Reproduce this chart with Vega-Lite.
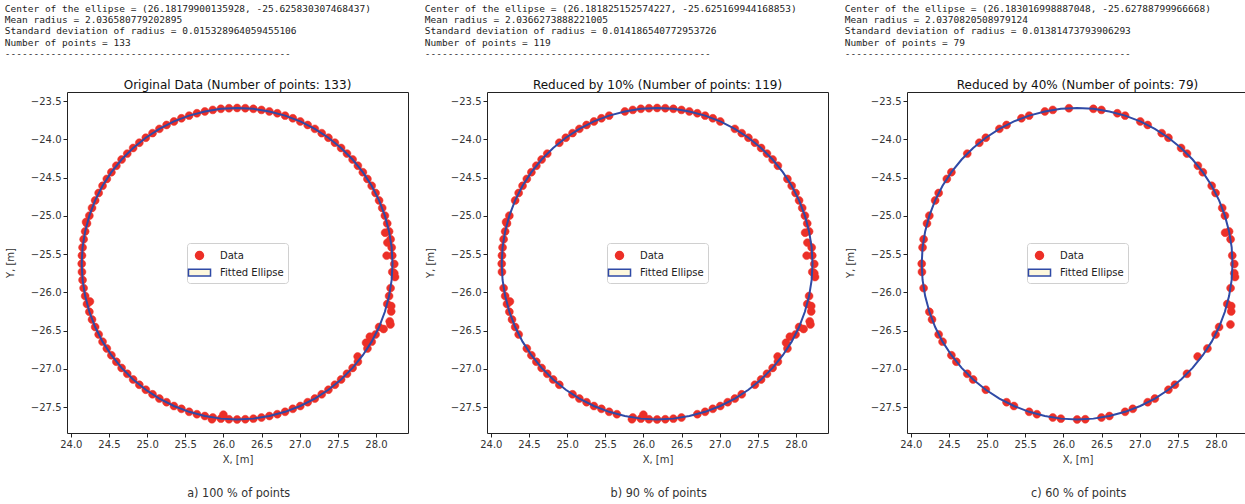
{
"$schema": "https://vega.github.io/schema/vega-lite/v6.json",
"background": "white",
"padding": {"left": 4, "top": 3, "right": 0, "bottom": 0},
"datasets": {
"pts": [
{"x":28.24,"y":-25.63,"b":1,"c":1},{"x":28.214,"y":-25.519,"b":1,"c":1},{"x":28.206,"y":-25.413,"b":1},{"x":28.192,"y":-25.307,"c":1},{"x":28.172,"y":-25.203,"b":1,"c":1},{"x":28.148,"y":-25.099,"b":1},{"x":28.117,"y":-24.997,"b":1,"c":1},{"x":28.082,"y":-24.896,"b":1,"c":1},{"x":28.041,"y":-24.798,"b":1},{"x":27.995,"y":-24.701,"b":1,"c":1},
{"x":27.944,"y":-24.607,"b":1,"c":1},{"x":27.888,"y":-24.517,"b":1},{"x":27.828,"y":-24.429,"c":1},{"x":27.763,"y":-24.344,"b":1,"c":1},{"x":27.694,"y":-24.263,"b":1},{"x":27.62,"y":-24.186,"b":1,"c":1},{"x":27.543,"y":-24.112,"b":1,"c":1},{"x":27.462,"y":-24.043,"b":1},{"x":27.377,"y":-23.978,"b":1,"c":1},{"x":27.289,"y":-23.918,"b":1,"c":1},
{"x":27.199,"y":-23.862,"b":1},{"x":27.105,"y":-23.811,"c":1},{"x":27.008,"y":-23.765,"b":1,"c":1},{"x":26.91,"y":-23.724,"b":1},{"x":26.809,"y":-23.689,"b":1,"c":1},{"x":26.707,"y":-23.658,"b":1,"c":1},{"x":26.603,"y":-23.634,"b":1},{"x":26.499,"y":-23.614,"b":1,"c":1},{"x":26.393,"y":-23.6,"b":1,"c":1},{"x":26.287,"y":-23.592,"b":1},
{"x":26.18,"y":-23.589,"b":1},{"x":26.073,"y":-23.592,"b":1,"c":1},{"x":25.967,"y":-23.6,"b":1},{"x":25.861,"y":-23.614,"b":1,"c":1},{"x":25.757,"y":-23.634,"b":1,"c":1},{"x":25.653,"y":-23.658},{"x":25.551,"y":-23.689,"b":1,"c":1},{"x":25.45,"y":-23.724,"b":1,"c":1},{"x":25.352,"y":-23.765,"b":1},{"x":25.255,"y":-23.811,"b":1,"c":1},
{"x":25.161,"y":-23.862,"b":1,"c":1},{"x":25.071,"y":-23.918,"b":1},{"x":24.983,"y":-23.978,"b":1,"c":1},{"x":24.898,"y":-24.043,"b":1,"c":1},{"x":24.817,"y":-24.112},{"x":24.74,"y":-24.186,"b":1,"c":1},{"x":24.666,"y":-24.263,"b":1},{"x":24.597,"y":-24.344,"b":1},{"x":24.532,"y":-24.429,"b":1,"c":1},{"x":24.472,"y":-24.517,"b":1,"c":1},
{"x":24.416,"y":-24.607,"b":1},{"x":24.365,"y":-24.701,"b":1,"c":1},{"x":24.319,"y":-24.798,"b":1,"c":1},{"x":24.278,"y":-24.896},{"x":24.243,"y":-24.997,"b":1,"c":1},{"x":24.212,"y":-25.099,"b":1,"c":1},{"x":24.188,"y":-25.203,"b":1},{"x":24.168,"y":-25.307,"b":1,"c":1},{"x":24.154,"y":-25.413,"b":1,"c":1},{"x":24.146,"y":-25.519,"b":1},
{"x":24.143,"y":-25.626,"b":1,"c":1},{"x":24.146,"y":-25.733,"b":1,"c":1},{"x":24.154,"y":-25.839},{"x":24.168,"y":-25.945,"b":1,"c":1},{"x":24.188,"y":-26.049,"b":1},{"x":24.212,"y":-26.153,"b":1},{"x":24.243,"y":-26.255,"b":1,"c":1},{"x":24.278,"y":-26.356,"b":1,"c":1},{"x":24.319,"y":-26.454,"b":1},{"x":24.365,"y":-26.551,"b":1,"c":1},
{"x":24.416,"y":-26.645,"c":1},{"x":24.472,"y":-26.735,"b":1},{"x":24.532,"y":-26.823,"b":1,"c":1},{"x":24.597,"y":-26.908,"b":1,"c":1},{"x":24.666,"y":-26.989,"b":1},{"x":24.74,"y":-27.066,"b":1,"c":1},{"x":24.817,"y":-27.14,"b":1,"c":1},{"x":24.898,"y":-27.209,"b":1},{"x":24.983,"y":-27.274,"c":1},{"x":25.071,"y":-27.334,"b":1},
{"x":25.161,"y":-27.39,"b":1},{"x":25.255,"y":-27.437,"b":1,"c":1},{"x":25.352,"y":-27.487,"b":1,"c":1},{"x":25.45,"y":-27.524,"b":1},{"x":25.551,"y":-27.563,"b":1,"c":1},{"x":25.653,"y":-27.594,"b":1,"c":1},{"x":25.757,"y":-27.618},{"x":25.861,"y":-27.638,"b":1,"c":1},{"x":25.967,"y":-27.652,"b":1,"c":1},{"x":26.073,"y":-27.66,"b":1},
{"x":26.18,"y":-27.663,"b":1,"c":1},{"x":26.287,"y":-27.66,"b":1,"c":1},{"x":26.393,"y":-27.652,"b":1},{"x":26.499,"y":-27.638,"b":1,"c":1},{"x":26.603,"y":-27.618,"c":1},{"x":26.707,"y":-27.594,"b":1},{"x":26.809,"y":-27.563,"b":1,"c":1},{"x":26.91,"y":-27.524,"b":1,"c":1},{"x":27.008,"y":-27.487,"b":1},{"x":27.105,"y":-27.437,"b":1,"c":1},
{"x":27.199,"y":-27.39,"b":1,"c":1},{"x":27.289,"y":-27.334,"b":1},{"x":27.377,"y":-27.274,"c":1},{"x":27.462,"y":-27.209,"b":1,"c":1},{"x":27.543,"y":-27.14,"b":1},{"x":27.62,"y":-27.066,"b":1,"c":1},{"x":27.694,"y":-26.989,"b":1},{"x":27.763,"y":-26.908,"b":1},{"x":27.76,"y":-26.84,"b":1,"c":1},{"x":27.888,"y":-26.735,"b":1,"c":1},
{"x":27.944,"y":-26.645},{"x":27.995,"y":-26.551,"b":1,"c":1},{"x":28.041,"y":-26.454,"b":1,"c":1},{"x":28.18,"y":-26.38,"b":1},{"x":28.2,"y":-26.25,"b":1,"c":1},{"x":28.148,"y":-26.153,"b":1,"c":1},{"x":28.172,"y":-26.049,"b":1},{"x":28.192,"y":-25.945,"c":1},{"x":28.25,"y":-25.8,"b":1,"c":1},{"x":28.214,"y":-25.733,"b":1},
{"x":28.19,"y":-26.42,"b":1,"c":1},{"x":28.1,"y":-26.48,"b":1},{"x":27.92,"y":-26.58,"b":1},{"x":27.87,"y":-26.66,"b":1},{"x":28.2,"y":-26.18,"b":1,"c":1},{"x":28.24,"y":-25.75,"b":1,"c":1},{"x":28.15,"y":-25.35,"b":1},{"x":28.12,"y":-25.22,"b":1,"c":1},{"x":28.14,"y":-25.52,"b":1},{"x":26.0,"y":-27.6,"b":1},{"x":25.85,"y":-27.66,"b":1},{"x":24.2,"y":-25.08,"b":1},{"x":24.25,"y":-26.12,"b":1}
],
"ell": [
{"i":0,"x":28.217,"y":-25.626},{"i":1,"x":28.206,"y":-25.413},{"i":2,"x":28.172,"y":-25.203},{"i":3,"x":28.117,"y":-24.997},{"i":4,"x":28.041,"y":-24.798},{"i":5,"x":27.944,"y":-24.607},{"i":6,"x":27.828,"y":-24.429},{"i":7,"x":27.694,"y":-24.263},{"i":8,"x":27.543,"y":-24.112},{"i":9,"x":27.377,"y":-23.978},
{"i":10,"x":27.199,"y":-23.862},{"i":11,"x":27.008,"y":-23.765},{"i":12,"x":26.809,"y":-23.689},{"i":13,"x":26.603,"y":-23.634},{"i":14,"x":26.393,"y":-23.6},{"i":15,"x":26.18,"y":-23.589},{"i":16,"x":25.967,"y":-23.6},{"i":17,"x":25.757,"y":-23.634},{"i":18,"x":25.551,"y":-23.689},{"i":19,"x":25.352,"y":-23.765},
{"i":20,"x":25.161,"y":-23.862},{"i":21,"x":24.983,"y":-23.978},{"i":22,"x":24.817,"y":-24.112},{"i":23,"x":24.666,"y":-24.263},{"i":24,"x":24.532,"y":-24.429},{"i":25,"x":24.416,"y":-24.607},{"i":26,"x":24.319,"y":-24.798},{"i":27,"x":24.243,"y":-24.997},{"i":28,"x":24.188,"y":-25.203},{"i":29,"x":24.154,"y":-25.413},
{"i":30,"x":24.143,"y":-25.626},{"i":31,"x":24.154,"y":-25.839},{"i":32,"x":24.188,"y":-26.049},{"i":33,"x":24.243,"y":-26.255},{"i":34,"x":24.319,"y":-26.454},{"i":35,"x":24.416,"y":-26.645},{"i":36,"x":24.532,"y":-26.823},{"i":37,"x":24.666,"y":-26.989},{"i":38,"x":24.817,"y":-27.14},{"i":39,"x":24.983,"y":-27.274},
{"i":40,"x":25.161,"y":-27.39},{"i":41,"x":25.352,"y":-27.487},{"i":42,"x":25.551,"y":-27.563},{"i":43,"x":25.757,"y":-27.618},{"i":44,"x":25.967,"y":-27.652},{"i":45,"x":26.18,"y":-27.663},{"i":46,"x":26.393,"y":-27.652},{"i":47,"x":26.603,"y":-27.618},{"i":48,"x":26.809,"y":-27.563},{"i":49,"x":27.008,"y":-27.487},
{"i":50,"x":27.199,"y":-27.39},{"i":51,"x":27.377,"y":-27.274},{"i":52,"x":27.543,"y":-27.14},{"i":53,"x":27.694,"y":-26.989},{"i":54,"x":27.828,"y":-26.823},{"i":55,"x":27.944,"y":-26.645},{"i":56,"x":28.041,"y":-26.454},{"i":57,"x":28.117,"y":-26.255},{"i":58,"x":28.172,"y":-26.049},{"i":59,"x":28.206,"y":-25.839},{"i":60,"x":28.217,"y":-25.626}
]
},
"spacing": 15,
"resolve": {"scale": {"fill": "independent", "stroke": "independent", "shape": "independent"}, "legend": {"fill": "independent", "stroke": "independent", "shape": "independent"}},
"hconcat": [
{
"title": {"text": "a) 100 % of points", "orient": "bottom", "anchor": "middle", "frame": "bounds", "dx": 32, "offset": 22, "font": "Liberation Sans Narrow, DejaVu Sans Condensed, Liberation Sans, sans-serif", "fontSize": 12.5, "fontWeight": "normal", "color": "#333"},
"vconcat": [{
"title": {"text": ["Center of the ellipse = (26.18179900135928, -25.625830307468437)", "Mean radius = 2.036580779202895", "Standard deviation of radius = 0.015328964059455106", "Number of points = 133", "--------------------------------------------------"], "anchor": "start", "frame": "bounds", "offset": 20, "font": "DejaVu Sans Mono", "fontSize": 9.5, "lineHeight": 11.3, "fontWeight": "normal", "color": "#222"},
"vconcat": [{
"width": 341, "height": 341,
"title": {"text": "Original Data (Number of points: 133)", "fontSize": 12, "fontWeight": "normal", "font": "DejaVu Sans", "color": "#111", "offset": 0},
"layer": [
{"data": {"name": "pts"},
"mark": {"type": "point", "filled": true, "size": 225, "strokeWidth": 0.5, "opacity": 1},
"encoding": {
"x": {"field": "x", "type": "quantitative", "scale": {"domain": [23.95, 28.42], "nice": false, "zero": false}, "axis": {"values": [24, 24.5, 25, 25.5, 26, 26.5, 27, 27.5, 28], "format": ".1f", "title": "X, [m]"}},
"y": {"field": "y", "type": "quantitative", "scale": {"domain": [-27.84, -23.38], "nice": false, "zero": false}, "axis": {"values": [-27.5, -27, -26.5, -26, -25.5, -25, -24.5, -24, -23.5], "format": ".1f", "title": "Y, [m]"}},
"shape": {"datum": "Data", "type": "nominal", "scale": {"domain": ["Data", "Fitted Ellipse"], "range": ["M-0.53,0A0.53,0.53 0 1,0 0.53,0A0.53,0.53 0 1,0 -0.53,0Z", "M-1.47,-0.45H1.47V0.45H-1.47Z"]}, "legend": {"orient": "none", "legendX": 120, "legendY": 151, "title": null}},
"fill": {"datum": "Data", "type": "nominal", "scale": {"domain": ["Data", "Fitted Ellipse"], "range": ["#ec2f27", "#fdf7dd"]}, "legend": {"orient": "none", "legendX": 120, "legendY": 151, "title": null}},
"stroke": {"datum": "Data", "type": "nominal", "scale": {"domain": ["Data", "Fitted Ellipse"], "range": ["#ec2f27", "#2f4aa6"]}, "legend": {"orient": "none", "legendX": 120, "legendY": 151, "title": null}}
}},
{"data": {"name": "ell"},
"mark": {"type": "line", "stroke": "#2f4aa6", "strokeWidth": 2},
"encoding": {"x": {"field": "x", "type": "quantitative"}, "y": {"field": "y", "type": "quantitative"}, "order": {"field": "i", "type": "quantitative"}}}
]
}]
}]
},
{
"title": {"text": "b) 90 % of points", "orient": "bottom", "anchor": "middle", "frame": "bounds", "dx": 32, "offset": 22, "font": "Liberation Sans Narrow, DejaVu Sans Condensed, Liberation Sans, sans-serif", "fontSize": 12.5, "fontWeight": "normal", "color": "#333"},
"vconcat": [{
"title": {"text": ["Center of the ellipse = (26.181825152574227, -25.625169944168853)", "Mean radius = 2.0366273888221005", "Standard deviation of radius = 0.014186540772953726", "Number of points = 119", "--------------------------------------------------"], "anchor": "start", "frame": "bounds", "offset": 20, "font": "DejaVu Sans Mono", "fontSize": 9.5, "lineHeight": 11.3, "fontWeight": "normal", "color": "#222"},
"vconcat": [{
"width": 341, "height": 341,
"title": {"text": "Reduced by 10% (Number of points: 119)", "fontSize": 12, "fontWeight": "normal", "font": "DejaVu Sans", "color": "#111", "offset": 0},
"layer": [
{"data": {"name": "pts"},
"transform": [{"filter": "datum.b == 1"}],
"mark": {"type": "point", "filled": true, "size": 225, "strokeWidth": 0.5, "opacity": 1},
"encoding": {
"x": {"field": "x", "type": "quantitative", "scale": {"domain": [23.95, 28.42], "nice": false, "zero": false}, "axis": {"values": [24, 24.5, 25, 25.5, 26, 26.5, 27, 27.5, 28], "format": ".1f", "title": "X, [m]"}},
"y": {"field": "y", "type": "quantitative", "scale": {"domain": [-27.84, -23.38], "nice": false, "zero": false}, "axis": {"values": [-27.5, -27, -26.5, -26, -25.5, -25, -24.5, -24, -23.5], "format": ".1f", "title": "Y, [m]"}},
"shape": {"datum": "Data", "type": "nominal", "scale": {"domain": ["Data", "Fitted Ellipse"], "range": ["M-0.53,0A0.53,0.53 0 1,0 0.53,0A0.53,0.53 0 1,0 -0.53,0Z", "M-1.47,-0.45H1.47V0.45H-1.47Z"]}, "legend": {"orient": "none", "legendX": 120, "legendY": 151, "title": null}},
"fill": {"datum": "Data", "type": "nominal", "scale": {"domain": ["Data", "Fitted Ellipse"], "range": ["#ec2f27", "#fdf7dd"]}, "legend": {"orient": "none", "legendX": 120, "legendY": 151, "title": null}},
"stroke": {"datum": "Data", "type": "nominal", "scale": {"domain": ["Data", "Fitted Ellipse"], "range": ["#ec2f27", "#2f4aa6"]}, "legend": {"orient": "none", "legendX": 120, "legendY": 151, "title": null}}
}},
{"data": {"name": "ell"},
"mark": {"type": "line", "stroke": "#2f4aa6", "strokeWidth": 2},
"encoding": {"x": {"field": "x", "type": "quantitative"}, "y": {"field": "y", "type": "quantitative"}, "order": {"field": "i", "type": "quantitative"}}}
]
}]
}]
},
{
"title": {"text": "c) 60 % of points", "orient": "bottom", "anchor": "middle", "frame": "bounds", "dx": 32, "offset": 22, "font": "Liberation Sans Narrow, DejaVu Sans Condensed, Liberation Sans, sans-serif", "fontSize": 12.5, "fontWeight": "normal", "color": "#333"},
"vconcat": [{
"title": {"text": ["Center of the ellipse = (26.183016998887048, -25.62788799966668)", "Mean radius = 2.0370820508979124", "Standard deviation of radius = 0.01381473793906293", "Number of points = 79", "--------------------------------------------------"], "anchor": "start", "frame": "bounds", "offset": 20, "font": "DejaVu Sans Mono", "fontSize": 9.5, "lineHeight": 11.3, "fontWeight": "normal", "color": "#222"},
"vconcat": [{
"width": 341, "height": 341,
"title": {"text": "Reduced by 40% (Number of points: 79)", "fontSize": 12, "fontWeight": "normal", "font": "DejaVu Sans", "color": "#111", "offset": 0},
"layer": [
{"data": {"name": "pts"},
"transform": [{"filter": "datum.c == 1"}],
"mark": {"type": "point", "filled": true, "size": 225, "strokeWidth": 0.5, "opacity": 1},
"encoding": {
"x": {"field": "x", "type": "quantitative", "scale": {"domain": [23.95, 28.42], "nice": false, "zero": false}, "axis": {"values": [24, 24.5, 25, 25.5, 26, 26.5, 27, 27.5, 28], "format": ".1f", "title": "X, [m]"}},
"y": {"field": "y", "type": "quantitative", "scale": {"domain": [-27.84, -23.38], "nice": false, "zero": false}, "axis": {"values": [-27.5, -27, -26.5, -26, -25.5, -25, -24.5, -24, -23.5], "format": ".1f", "title": "Y, [m]"}},
"shape": {"datum": "Data", "type": "nominal", "scale": {"domain": ["Data", "Fitted Ellipse"], "range": ["M-0.53,0A0.53,0.53 0 1,0 0.53,0A0.53,0.53 0 1,0 -0.53,0Z", "M-1.47,-0.45H1.47V0.45H-1.47Z"]}, "legend": {"orient": "none", "legendX": 120, "legendY": 151, "title": null}},
"fill": {"datum": "Data", "type": "nominal", "scale": {"domain": ["Data", "Fitted Ellipse"], "range": ["#ec2f27", "#fdf7dd"]}, "legend": {"orient": "none", "legendX": 120, "legendY": 151, "title": null}},
"stroke": {"datum": "Data", "type": "nominal", "scale": {"domain": ["Data", "Fitted Ellipse"], "range": ["#ec2f27", "#2f4aa6"]}, "legend": {"orient": "none", "legendX": 120, "legendY": 151, "title": null}}
}},
{"data": {"name": "ell"},
"mark": {"type": "line", "stroke": "#2f4aa6", "strokeWidth": 2},
"encoding": {"x": {"field": "x", "type": "quantitative"}, "y": {"field": "y", "type": "quantitative"}, "order": {"field": "i", "type": "quantitative"}}}
]
}]
}]
}
],
"config": {
"font": "DejaVu Sans",
"view": {"stroke": "#222", "strokeWidth": 1},
"axis": {"grid": false, "domain": false, "tickColor": "#222", "tickSize": 4, "labelFontSize": 10, "labelColor": "#333", "labelFont": "DejaVu Sans", "labelPadding": 2, "labelFlush": false, "titleFontSize": 10, "titleFontWeight": "normal", "titleColor": "#333", "titleFont": "DejaVu Sans"},
"axisY": {"titlePadding": 15},
"axisX": {"titlePadding": 5},
"legend": {"labelFontSize": 10, "labelColor": "#222", "labelFont": "DejaVu Sans", "fillColor": "white", "strokeColor": "#d0d0d0", "cornerRadius": 3, "padding": 4, "symbolSize": 225, "symbolStrokeWidth": 1.5, "labelOffset": 12, "rowPadding": 1}
}
}
